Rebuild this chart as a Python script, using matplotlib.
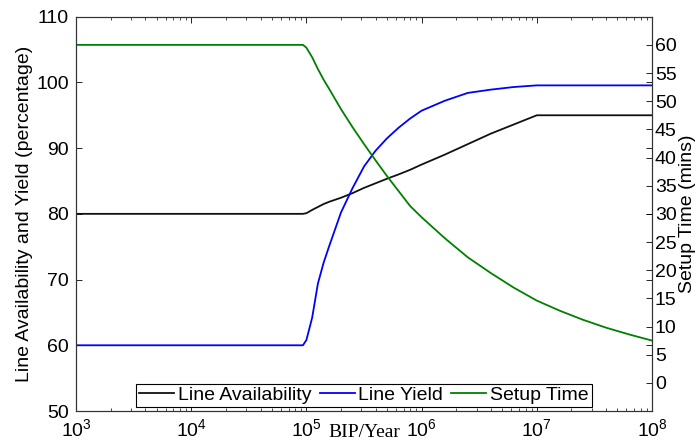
import numpy as np
import matplotlib
matplotlib.use("Agg")
import matplotlib.pyplot as plt
from matplotlib.ticker import LogLocator, LogFormatterMathtext, FixedLocator, NullFormatter

plt.rcParams['font.family'] = ['Liberation Sans', 'DejaVu Sans']
plt.rcParams['mathtext.fontset'] = 'custom'
plt.rcParams['mathtext.rm'] = 'Liberation Sans'
plt.rcParams['mathtext.it'] = 'Liberation Sans:italic'

# ---- data (x given as log10 of BIP/Year) ----
log_bip = [3.0, 4.97, 5.0, 5.05, 5.1, 5.15, 5.2, 5.3, 5.4, 5.5, 5.6, 5.7, 5.8, 5.9,
           6.0, 6.2, 6.4, 6.6, 6.8, 7.0, 7.2, 7.4, 7.6, 7.8, 8.0]
line_availability = [80, 80, 80.1, 80.6, 81.05, 81.5, 81.85, 82.45, 83.15, 83.95, 84.65,
                     85.35, 86.0, 86.7, 87.5, 89.0, 90.6, 92.2, 93.6, 95.0, 95.0, 95.0,
                     95.0, 95.0, 95.0]
line_yield = [60, 60, 60.8, 64.2, 69.4, 72.6, 75.2, 80.2, 83.9, 87.2, 89.6, 91.5, 93.1,
              94.5, 95.7, 97.2, 98.4, 98.9, 99.3, 99.55, 99.55, 99.55, 99.55, 99.55, 99.55]
setup_time = [60, 60, 59.5, 57.8, 55.7, 53.8, 52.1, 48.6, 45.4, 42.4, 39.5, 36.7, 34.05,
              31.4, 29.4, 25.7, 22.3, 19.5, 16.9, 14.6, 12.8, 11.2, 9.8, 8.6, 7.5]

left_ticks = [50, 60, 70, 80, 90, 100, 110]
right_ticks = [0, 5, 10, 15, 20, 25, 30, 35, 40, 45, 50, 55, 60]

bip = 10.0 ** np.array(log_bip)

fig = plt.figure(figsize=(6.96, 4.44), dpi=100)
ax = fig.add_axes([76/696, 33/444, 576/696, 394.3/444])
ax2 = ax.twinx()

green = (0.0, 0.5, 0.0)
l1, = ax.plot(bip, line_availability, color='#111111', lw=1.3, label='Line Availability')
l2, = ax.plot(bip, line_yield, color='#0000ff', lw=1.3, label='Line Yield')
l3, = ax2.plot(bip, setup_time, color=green, lw=1.3, label='Setup Time')

ax.set_xscale('log')
ax.set_xlim(1e3, 1e8)
ax.set_ylim(50, 110)
ax2.set_ylim(-5, 65)
ax.yaxis.set_major_locator(FixedLocator(left_ticks))
ax2.yaxis.set_major_locator(FixedLocator(right_ticks))
ax.xaxis.set_major_locator(LogLocator(base=10, numticks=10))
ax.xaxis.set_major_formatter(LogFormatterMathtext())
ax.xaxis.set_minor_locator(LogLocator(base=10, subs=np.arange(2, 10), numticks=20))
ax.xaxis.set_minor_formatter(NullFormatter())

fs = 14
ax.tick_params(axis='both', which='major', direction='in', length=4, width=0.6,
               labelsize=fs, top=True, right=True, pad=5)
ax.tick_params(axis='x', which='minor', direction='in', length=2.5, width=0.5,
               top=True, bottom=True)
ax.tick_params(axis='y', which='major', pad=5)
ax2.tick_params(axis='y', which='major', direction='in', length=4, width=0.6,
                labelsize=fs, pad=2)

for a in (ax, ax2):
    for s in a.spines.values():
        s.set_linewidth(0.8)
        s.set_color('#333333')

ax.set_ylabel('Line Availability and Yield (percentage)', fontsize=fs)
ax.yaxis.set_label_coords(-0.075, 0.5)
ax2.set_ylabel('Setup Time (mins)', fontsize=fs)
ax2.yaxis.set_label_coords(1.047, 0.5)

ax.set_xlabel('BIP/Year', fontsize=fs, family=['Liberation Serif', 'DejaVu Serif'])
ax.xaxis.set_label_coords(0.5, -0.034)

leg = ax2.legend(handles=[l1, l2, l3], loc='lower center', bbox_to_anchor=(0.5, 0.01),
                 ncol=3, fontsize=fs, frameon=True, fancybox=False, framealpha=1,
                 borderpad=0.15, handlelength=1.8, handletextpad=0.2,
                 columnspacing=0.4, borderaxespad=0)
leg.get_frame().set_edgecolor('black')
leg.get_frame().set_linewidth(0.8)

fig.savefig('out.png', dpi=100)
